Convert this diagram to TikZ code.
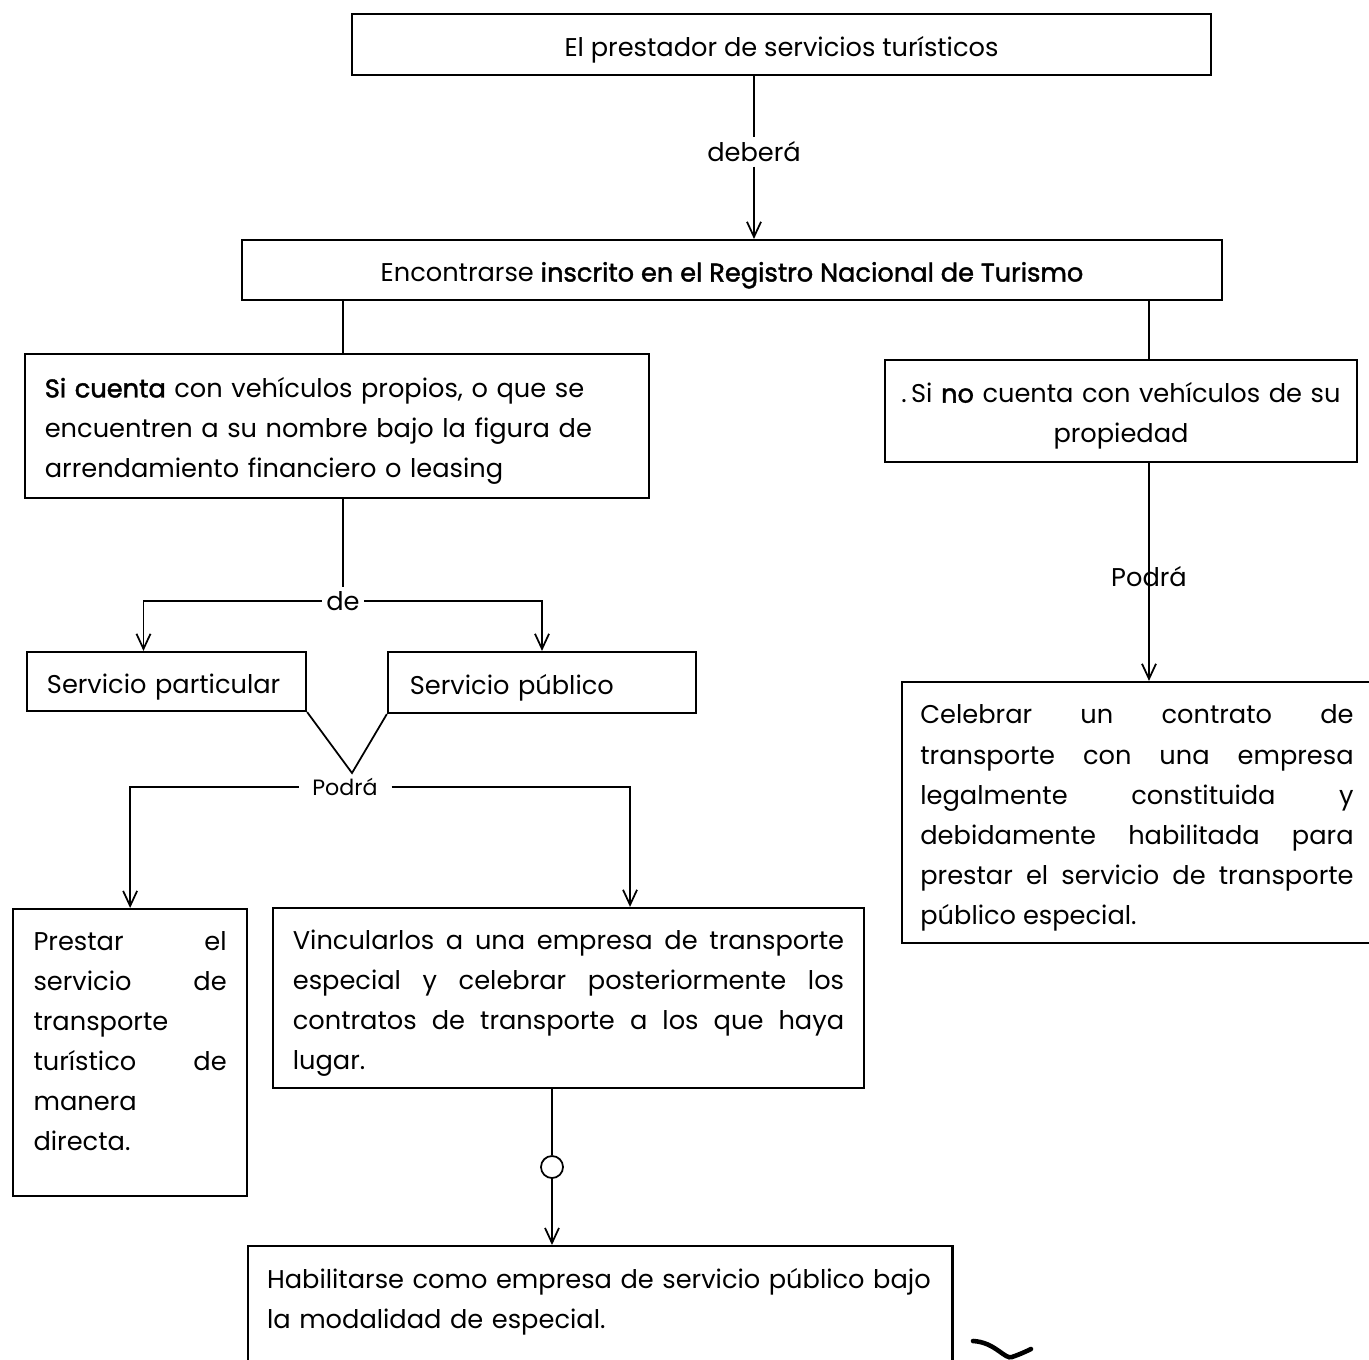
\documentclass[tikz,border=0pt]{standalone}
\usepackage{fontspec}
\setmainfont{Poppins}
\newfontfamily\halfbold[FakeBold=1.6]{Poppins}
\usetikzlibrary{arrows.meta}

\begin{document}
\begin{tikzpicture}[x=0.01cm, y=-0.01cm, line width=0.5pt,
    >={Straight Barb[length=0.15cm,width=0.14cm]},
    every node/.style={font=\fontsize{7.3}{11.4}\selectfont},
    box/.style={draw, line width=0.6pt, inner sep=0pt, text height=0.3cm},
    lbl/.style={inner sep=1pt}]

    % Page frame
    \useasboundingbox (0,0) rectangle (1369,1360);
    \clip (0,0) rectangle (1369,1360);

    % Top of the chart
    \node[box, minimum width=8.59cm, minimum height=0.61cm] (top) at (781.5,44.5) {El prestador de servicios turísticos};
    \node[lbl] (deb) at (754,152) {deberá};
    \node[box, minimum width=9.8cm, minimum height=0.6cm] (reg) at (732,270) {Encontrarse {\halfbold inscrito en el Registro Nacional de Turismo}};

    % Two cases
    \node[box, text width=5.84cm, inner xsep=0.2cm, minimum height=1.44cm, align=left] (lbox) at (337,426)
        {{\halfbold Si cuenta} con vehículos propios, o que se\\ encuentren a su nombre bajo la figura de\\ arrendamiento financiero o leasing};
    \node[box, text width=4.62cm, inner xsep=0.05cm, minimum height=1.02cm, align=center] (rbox) at (1121,411)
        {.\,Si {\halfbold no} cuenta con vehículos de su\\ propiedad};

    % Kind of service
    \node[lbl] (de) at (343,601) {de};
    \node[box, text width=2.39cm, inner xsep=0.2cm, minimum height=0.59cm, align=left] (sp) at (166.5,681.5) {Servicio particular};
    \node[box, text width=2.64cm, inner xsep=0.22cm, minimum height=0.61cm, align=left] (spub) at (542,682.5) {Servicio público};
    \coordinate (vtip) at (352,773);
    \node[lbl, inner xsep=0.13cm, font=\fontsize{6.3}{8}\selectfont] (podra) at (345,787) {Podrá};

    % What can be done
    \node[box, anchor=north west, text width=1.93cm, inner xsep=0.205cm, inner ysep=0.21cm,
          text height=0.2cm, text depth=2.25cm, align=left] (pd) at (12,908)
        {Prestar\hfill el\\ servicio\hfill de\\ transporte\\ turístico\hfill de\\ manera\\ directa.};
    \node[box, text width=5.51cm, inner xsep=0.2cm, minimum height=1.8cm, align=justify] (vinc) at (568.5,998)
        {Vincularlos a una empresa de transporte\linebreak especial y celebrar posteriormente los\linebreak contratos de transporte a los que haya\linebreak lugar.};
    \node[draw, circle, minimum size=0.22cm, inner sep=0pt] (circ) at (552,1167) {};
    \node[box, anchor=north west, text width=6.66cm, inner xsep=0.19cm, inner ysep=0.22cm,
          text height=0.2cm, text depth=0.81cm, align=left] (hab) at (247,1245)
        {Habilitarse como empresa de servicio público bajo\\ la modalidad de especial.};

    % Right branch
    \node[lbl] (rpod) at (1149,577) {Podrá};
    \node[box, text width=4.33cm, inner xsep=0.185cm, minimum height=2.61cm, align=justify] (celeb) at (1137,812.5)
        {Celebrar un contrato de\linebreak transporte con una empresa\linebreak legalmente constituida y\linebreak debidamente habilitada para\linebreak prestar el servicio de transporte\linebreak público especial.};

    % Connectors
    \draw (top.south -| deb) -- (deb.north);
    \draw[->] (deb.south) -- (reg.north -| deb);
    \draw (reg.south -| de) -- (lbox.north -| de);
    \draw (reg.south -| rpod) -- (rbox.north -| rpod);
    \draw[->] (rbox.south -| rpod) -- (celeb.north -| rpod);
    \draw (lbox.south -| de) -- (de.north);
    \draw[->] (de.west) -| ([xshift=-0.23cm]sp.north);
    \draw[->] (de.east) -| (spub.north);
    \draw (sp.south east) -- (vtip) -- (spub.south west);
    \draw[->] (podra.west) -| (pd.north);
    \draw[->] (podra.east) -| ([xshift=0.615cm]vinc.north);
    \draw (vinc.south -| circ) -- (circ.north);
    \draw[->] (circ.south) -- (hab.north -| circ);

    % Pen stroke in the corner
    \draw[line width=1.3pt, line cap=round] (973,1341) .. controls (995,1342) and (1005,1360) .. (1012,1357)
        .. controls (1018,1355) and (1025,1352) .. (1031,1349);
\end{tikzpicture}
\end{document}
